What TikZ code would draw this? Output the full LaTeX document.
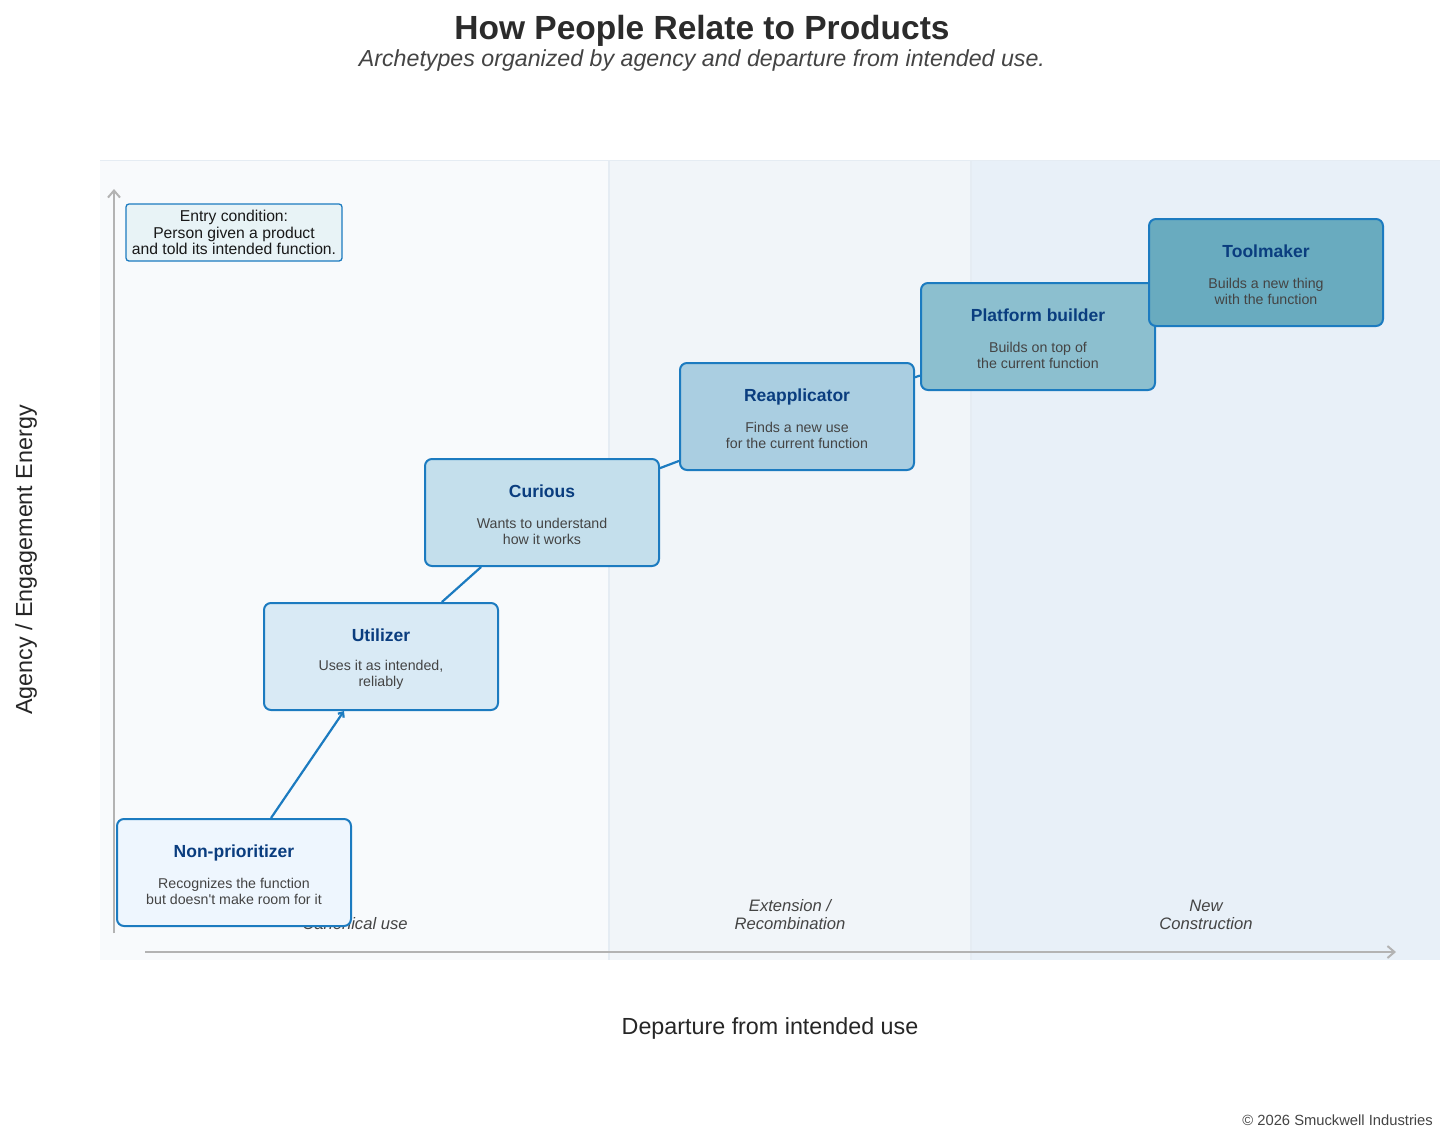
\documentclass[tikz,border=0pt]{standalone}
\usepackage{fontspec}
\setmainfont{Liberation Sans}
\usetikzlibrary{arrows.meta}
\definecolor{bgA}{HTML}{F8FAFC}
\definecolor{bgB}{HTML}{F1F5F9}
\definecolor{bgC}{HTML}{E8F0F8}
\definecolor{bgLine}{HTML}{E5ECF3}
\definecolor{axisgray}{HTML}{B3B3B3}
\definecolor{nborder}{HTML}{1C7BC0}
\definecolor{ntitle}{HTML}{0A3D7F}
\definecolor{ndesc}{HTML}{444444}
\definecolor{fillA}{HTML}{EEF6FE}
\definecolor{fillB}{HTML}{D9EAF5}
\definecolor{fillC}{HTML}{C4DFEC}
\definecolor{fillD}{HTML}{AACEE1}
\definecolor{fillE}{HTML}{8CBFCF}
\definecolor{fillF}{HTML}{69ABBF}
\definecolor{entryfill}{HTML}{E8F3F6}
\definecolor{titlecol}{HTML}{2B2B2B}
\pgfdeclarelayer{bg}
\pgfsetlayers{bg,main}
\tikzset{
  archbox/.style={draw=nborder, line width=2pt, rounded corners=7pt,
    minimum width=234pt, minimum height=107pt, inner sep=0pt},
  archtitle/.style={anchor=base, text=ntitle, font=\fontsize{17.5}{20}\selectfont\bfseries},
  archdesc/.style={anchor=center, align=center, text=ndesc, font=\fontsize{14.2}{16}\selectfont},
  conn/.style={draw=nborder, line width=2.2pt},
  axisline/.style={draw=axisgray, line width=2pt},
  regionlabel/.style={anchor=base, align=center, text=ndesc, font=\fontsize{16.6}{18}\selectfont\itshape},
}
\begin{document}
\begin{tikzpicture}[x=1pt,y=-1pt]
\useasboundingbox (0,0) rectangle (1456,1144);

\begin{pgfonlayer}{bg}
\fill[white] (0,0) rectangle (1456,1144);
% background panels
\fill[bgA] (100,160) rectangle (609,960);
\fill[bgB] (609,160) rectangle (971,960);
\fill[bgC] (971,160) rectangle (1440,960);
\draw[bgLine, line width=1pt] (100,160) -- (1440,160);
\draw[bgLine, line width=1.5pt] (609,160) -- (609,960);
\draw[bgLine, line width=1.5pt] (971,160) -- (971,960);

% axes
\coordinate (ybot) at (114,933);
\coordinate (ytop) at (114,189);
\coordinate (xl) at (145,952);
\coordinate (xr) at (1396,952);
\draw[axisline, -{Straight Barb[length=7pt,width=12pt]}] (ybot) -- (ytop);
\draw[axisline, -{Straight Barb[length=7pt,width=12pt]}] (xl) -- (xr);

% region labels
\node[regionlabel] (reg1) at (355,929) {Canonical use};
\node[regionlabel] (reg2a) at (790,911) {Extension /};
\node[regionlabel] (reg2b) at (790,929) {Recombination};
\node[regionlabel] (reg3a) at (1206,911) {New};
\node[regionlabel] (reg3b) at (1206,929) {Construction};
\end{pgfonlayer}

% title
\node[anchor=base, text=titlecol, font=\fontsize{33.5}{38}\selectfont\bfseries] (title) at (702,39) {How People Relate to Products};
\node[anchor=base, text=ndesc, font=\fontsize{23.2}{26}\selectfont\itshape] (subtitle) at (702,66) {Archetypes organized by agency and departure from intended use.};

% axis titles
\node[anchor=center, rotate=90, text=black!85, font=\fontsize{23.3}{26}\selectfont] (ylab) at (26,560) {Agency / Engagement Energy};
\node[anchor=base, text=black!85, font=\fontsize{23.3}{26}\selectfont] (xlab) at (770,1034) {Departure from intended use};

% entry condition
\node[draw=nborder, fill=entryfill, line width=1.3pt, rounded corners=3pt,
  minimum width=216pt, minimum height=57pt, inner sep=0pt, align=center,
  text=black!90, font=\fontsize{15.7}{16.5}\selectfont] (entry) at (234,232.5)
  {Entry condition:\\Person given a product\\and told its intended function.};

% archetype boxes
\node[archbox, fill=fillA] (np) at (234,872.5) {};
\node[archtitle] (npt) at ([yshift=15.5pt]np.center) {Non-prioritizer};
\node[archdesc] (npd) at ([yshift=-18.5pt]np.center) {Recognizes the function\\but doesn\textquotesingle t make room for it};

\node[archbox, fill=fillB] (ut) at (381,656.5) {};
\node[archtitle] (utt) at ([yshift=15.5pt]ut.center) {Utilizer};
\node[archdesc] (utd) at ([yshift=-18.5pt]ut.center) {Uses it as intended,\\reliably};

\node[archbox, fill=fillC] (cu) at (542,512.5) {};
\node[archtitle] (cut) at ([yshift=15.5pt]cu.center) {Curious};
\node[archdesc] (cud) at ([yshift=-18.5pt]cu.center) {Wants to understand\\how it works};

\node[archbox, fill=fillD] (re) at (797,416.5) {};
\node[archtitle] (ret) at ([yshift=15.5pt]re.center) {Reapplicator};
\node[archdesc] (red) at ([yshift=-18.5pt]re.center) {Finds a new use\\for the current function};

\node[archbox, fill=fillE] (pb) at (1038,336.5) {};
\node[archtitle] (pbt) at ([yshift=15.5pt]pb.center) {Platform builder};
\node[archdesc] (pbd) at ([yshift=-18.5pt]pb.center) {Builds on top of\\the current function};

\node[archbox, fill=fillF] (tm) at (1266,272.5) {};
\node[archtitle] (tmt) at ([yshift=15.5pt]tm.center) {Toolmaker};
\node[archdesc] (tmd) at ([yshift=-18.5pt]tm.center) {Builds a new thing\\with the function};

% connectors
\begin{pgfonlayer}{bg}
\draw[conn, -{Straight Barb[length=4pt,width=7pt]}] (np) -- (ut);
\draw[conn] (ut) -- (cu);
\draw[conn] (cu) -- (re);
\draw[conn] (re) -- (pb);
\end{pgfonlayer}

% copyright
\node[anchor=base east, inner sep=0pt, text=ndesc, font=\fontsize{14.75}{17}\selectfont] (copy) at (1433,1125) {© 2026 Smuckwell Industries};
\end{tikzpicture}
\end{document}
